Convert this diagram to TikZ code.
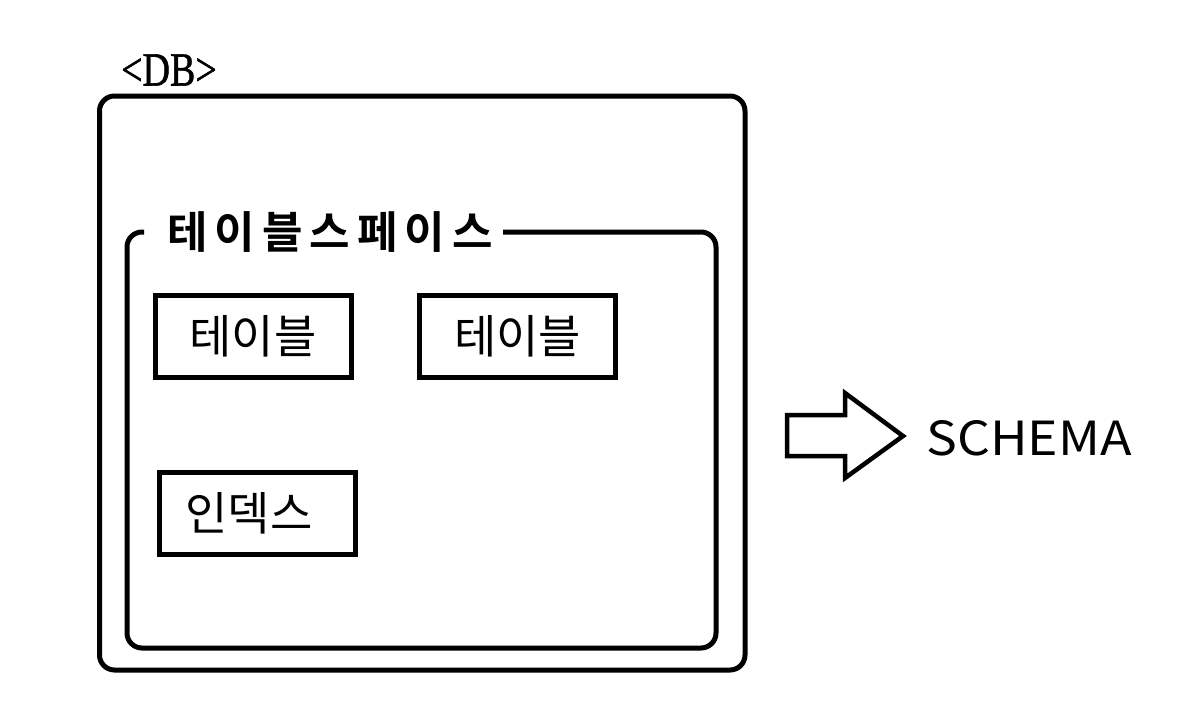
\documentclass[tikz,border=0pt]{standalone}
\usepackage{fontspec}
\newfontfamily\kr{Noto Sans CJK KR}
\newfontfamily\krb{Noto Sans CJK KR Bold}[LetterSpace=16]
\newfontfamily\dbfont{Liberation Serif}[FakeBold=1.2]
\begin{document}
\begin{tikzpicture}[x=1pt,y=-1pt,
  frame/.style={draw=black,line width=5pt,rounded corners=15pt},
  itembox/.style={draw=black,line width=5pt,minimum width=196pt,minimum height=82pt,inner sep=0pt},
  itemtext/.style={font=\kr\fontsize{46}{50}\selectfont},
  blockarrow/.style={draw=black,line width=4.5pt,line join=miter}]
\useasboundingbox (0,0) rectangle (1194,716);
% outer DB frame
\draw[frame] (99.5,96) rectangle (745,670);
\node[font=\dbfont\fontsize{38}{42}\selectfont,yscale=1.25,anchor=center] (db) at (169,70) {<DB>};
% tablespace frame with gap for label
\coordinate (tsA) at (144,232);
\coordinate (tsB) at (503,232);
\draw[frame] (tsA) -- (127,232) -- (127,648) -- (716,648) -- (716,232) -- (tsB);
\node[font=\krb\fontsize{44}{48}\selectfont] (ts) at (330,232) {테이블스페이스};
% item boxes
\node[itembox] (t1) at (253,336) {};
\node[itemtext] at (t1) {테이블};
\node[itembox] (t2) at (517.5,336) {};
\node[itemtext] at (t2) {테이블};
\node[itembox] (ix) at (257,513) {};
\node[itemtext] at (249,513) {인덱스};
% block arrow
\coordinate (a1) at (787,415);
\coordinate (a2) at (845,415);
\coordinate (a3) at (845,393);
\coordinate (a4) at (903,436);
\coordinate (a5) at (845,478);
\coordinate (a6) at (845,456);
\coordinate (a7) at (787,456);
\draw[blockarrow] (a1) -- (a2) -- (a3) -- (a4) -- (a5) -- (a6) -- (a7) -- cycle;
\node[font=\kr\fontsize{47}{50}\selectfont,xscale=1.1,anchor=west,inner sep=0pt] (schema) at (926,438) {SCHEMA};
\end{tikzpicture}
\end{document}
